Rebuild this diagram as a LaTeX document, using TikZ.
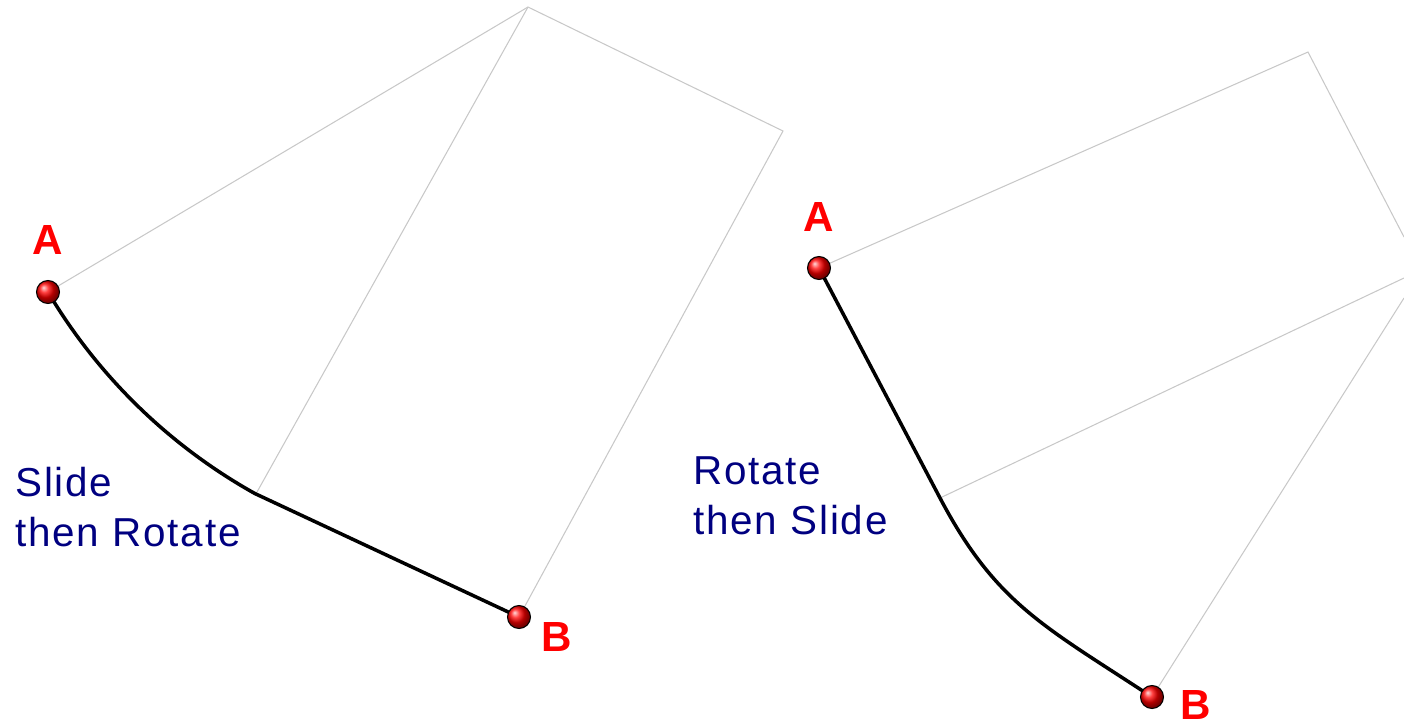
\documentclass[tikz,border=0pt]{standalone}
\usepackage{fontspec}
\setmainfont{Liberation Sans}
\newfontfamily\capfont[LetterSpace=4.5]{Liberation Sans}
\usetikzlibrary{positioning}
\definecolor{guidegray}{HTML}{C8C8C8}
\definecolor{navytext}{HTML}{000080}
\definecolor{pinred}{HTML}{FF0000}
\tikzset{
  guide/.style={draw=guidegray, line width=0.6pt},
  pathline/.style={draw=black, line width=2pt},
  ball/.style={circle, draw=black, line width=0.6pt, ball color=pinred,
               minimum size=0.46cm, inner sep=0pt},
  ptlabel/.style={text=pinred, font=\fontsize{24}{28}\selectfont\bfseries, inner sep=0pt},
  caption/.style={text=navytext, font=\capfont\fontsize{23}{28.45}\selectfont,
                  align=left, inner sep=0pt}
}

\begin{document}
\begin{tikzpicture}[x=0.02cm,y=-0.02cm]
  \useasboundingbox (0,0) rectangle (1404,725);

  % slide then rotate
  \coordinate (a1) at (48,292);
  \coordinate (t1) at (528,7);
  \coordinate (r1) at (783,131);
  \coordinate (p1) at (257,492);
  \coordinate (b1) at (519,617);
  \draw[guide] (a1) -- (t1) -- (r1) -- (b1);
  \draw[guide] (t1) -- (p1);
  \draw[pathline] (a1) arc[start angle=149.3, end angle=119.2, radius=556] -- (b1);
  \node[ball] (ballA1) at (a1) {};
  \node[ball] (ballB1) at (b1) {};
  \node[ptlabel, above=0.5cm of ballA1] (labA1) {A};
  \node[ptlabel, right=0.2cm of ballB1, yshift=-0.4cm] (labB1) {B};
  \node[caption, anchor=west] (cap1) at (15,507) {Slide\\then Rotate};

  % rotate then slide
  \coordinate (a2) at (819,268);
  \coordinate (t2) at (1308,52);
  \coordinate (q2) at (940,498);
  \coordinate (b2) at (1152,697);
  \coordinate (e2top) at (1404,237);
  \coordinate (e2mid) at (1404,278);
  \coordinate (e2low) at (1404,298);
  \draw[guide] (e2top) -- (t2) -- (a2);
  \draw[guide] (q2) -- (e2mid);
  \draw[guide] (b2) -- (e2low);
  \draw[pathline] (a2) -- (q2) .. controls (996,604) and (1044,626) .. (b2);
  \node[ball] (ballA2) at (a2) {};
  \node[ball] (ballB2) at (b2) {};
  \node[ptlabel, above=0.49cm of ballA2] (labA2) {A};
  \node[ptlabel, right=0.32cm of ballB2, yshift=-0.15cm] (labB2) {B};
  \node[caption, anchor=west] (cap2) at (693,496) {Rotate\\then Slide};
\end{tikzpicture}
\end{document}
